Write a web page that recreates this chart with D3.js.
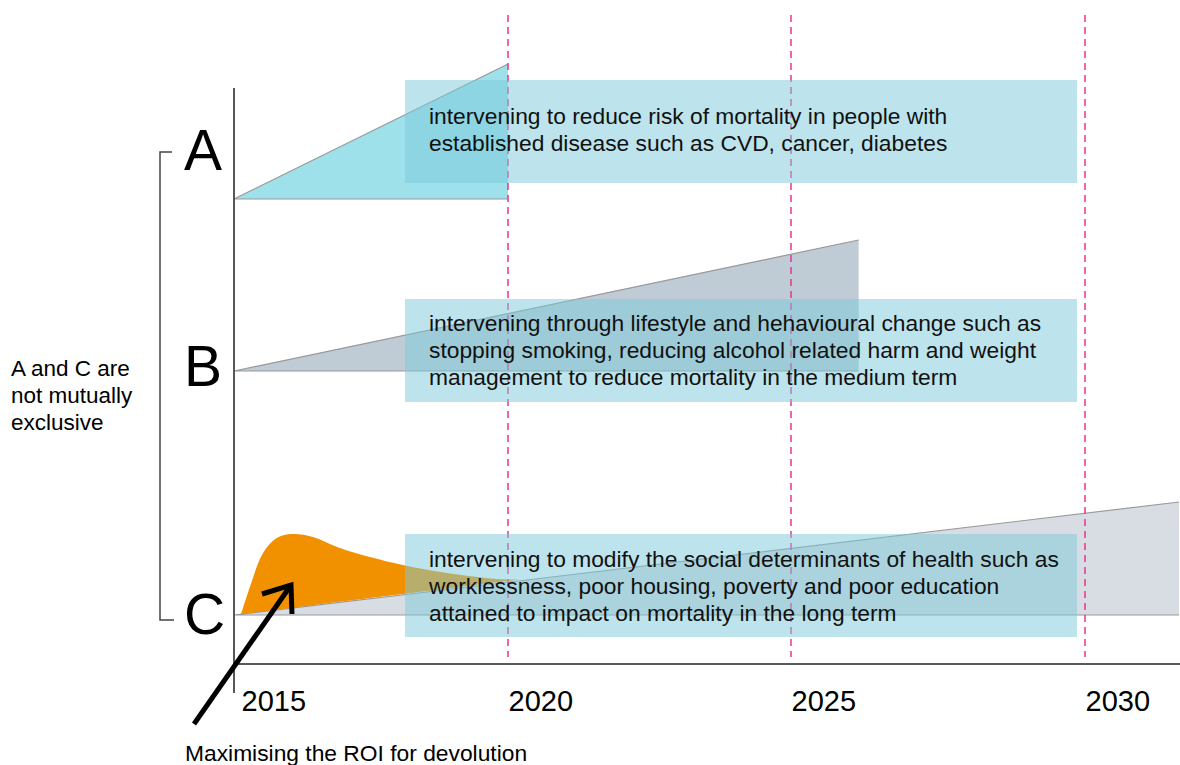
<!DOCTYPE html>
<html>
<head>
<meta charset="utf-8">
<script src="https://cdn.jsdelivr.net/npm/d3@7"></script>
<style>
  body { margin: 0; background: #fff; }
  svg { font-family: "Liberation Sans", Arial, sans-serif; }
</style>
</head>
<body>
<script>
// years marked on the time axis
const years = [2015, 2020, 2025, 2030];
const bands = ['A', 'B', 'C'];
const descriptions = [
  ['intervening to reduce risk of mortality in people with',
   'established disease such as CVD, cancer, diabetes'],
  ['intervening through lifestyle and hehavioural change such as',
   'stopping smoking, reducing alcohol related harm and weight',
   'management to reduce mortality in the medium term'],
  ['intervening to modify the social determinants of health such as',
   'worklessness, poor housing, poverty and poor education',
   'attained to impact on mortality in the long term']
];
// impact wedges, one per band
const wedgeStart = [2015, 2015, 2015];
const wedgeEnd = [2020, 2026.15, 2031.6];
const wedgeImpact = [13.5, 13.1, 11.3];
// early return on top of C
const roiYears = [2015.13, 2015.29, 2015.53, 2015.78, 2016.06, 2016.44, 2016.93, 2017.48, 2018.08, 2018.89, 2019.8, 2020.21];
const roiImpact = [0.1, 2.8, 6.2, 7.7, 8.1, 7.8, 6.7, 5.8, 5.0, 4.2, 3.6, 3.55];
const sideNote = ['A and C are', 'not mutually', 'exclusive'];
const arrowNote = 'Maximising the ROI for devolution';

const width = 1180, height = 765;

const svg = d3.select('body')
  .append('svg')
  .attr('width', width)
  .attr('height', height);

const x = d3.scaleLinear().domain(years).range([234, 508, 791, 1085]);
const impact = d3.scaleLinear().domain([0, 1]).range([0, 10]);
const base = d3.scaleOrdinal().domain(bands).range([199, 371, 615]);
const boxTop = d3.scaleOrdinal().domain(bands).range([80, 299, 534]);
const letterY = d3.scaleOrdinal().domain(bands).range([170, 386, 634]);
const textFirst = d3.scaleOrdinal().domain(bands).range([124, 331, 567]);
const fills = d3.scaleOrdinal().domain(bands).range(['#9fe1ea', '#bfccd5', '#d8dde3']);

const wedges = bands.map((b, i) => ({
  band: b,
  pts: [[wedgeStart[i], 0], [wedgeEnd[i], wedgeImpact[i]]]
}));

// wedges
const gW = svg.append('g');
wedges.forEach(w => {
  const [p0, p1] = w.pts;
  const b0 = base(w.band);
  gW.append('path')
    .attr('d', `M${x(p0[0])},${b0}L${x(p1[0])},${b0 - impact(p1[1])}L${x(p1[0])},${b0}Z`)
    .attr('fill', fills(w.band));
  gW.append('path')
    .attr('d', `M${x(p1[0])},${b0}L${x(p0[0])},${b0}L${x(p1[0])},${b0 - impact(p1[1])}`)
    .attr('fill', 'none')
    .attr('stroke', '#999')
    .attr('stroke-width', 1.2);
});

// orange return curve sitting on the C wedge
const cw = wedges[2].pts;
const cLine = d3.scaleLinear().domain([cw[0][0], cw[1][0]]).range([cw[0][1], cw[1][1]]);
const roi = roiYears.map((yr, i) => ({ yr, v: roiImpact[i] }));
svg.append('path')
  .datum(roi)
  .attr('fill', '#f29100')
  .attr('d', d3.area()
    .curve(d3.curveCatmullRom.alpha(0.5))
    .x(d => x(d.yr))
    .y0(d => base('C') - impact(cLine(d.yr)))
    .y1(d => base('C') - impact(d.v)));

// dashed year markers
svg.append('g')
  .selectAll('line')
  .data(years.slice(1))
  .join('line')
  .attr('x1', d => x(d)).attr('x2', d => x(d))
  .attr('y1', 15).attr('y2', 657)
  .attr('stroke', '#ee3190')
  .attr('stroke-width', 1.5)
  .attr('stroke-dasharray', '7,5');

// text boxes
const gB = svg.append('g');
bands.forEach((b, i) => {
  gB.append('rect')
    .attr('x', 405).attr('y', boxTop(b))
    .attr('width', 672).attr('height', 103)
    .attr('fill', 'rgb(123,201,217)')
    .attr('fill-opacity', 0.5);
  gB.append('text')
    .attr('x', 429).attr('y', textFirst(b))
    .attr('font-size', 22.8)
    .attr('fill', '#111')
    .selectAll('tspan')
    .data(descriptions[i])
    .join('tspan')
    .attr('x', 429)
    .attr('dy', (d, j) => j ? 26.8 : 0)
    .text(d => d);
  svg.append('text')
    .attr('x', 184).attr('y', letterY(b))
    .attr('font-size', 57)
    .text(b);
});

// axes
svg.append('line')
  .attr('x1', x(2015)).attr('x2', x(2015))
  .attr('y1', 88).attr('y2', 693)
  .attr('stroke', '#444').attr('stroke-width', 1.8);

const xAxis = svg.append('g')
  .attr('transform', 'translate(0,664)')
  .call(d3.axisBottom(x).tickValues(years).tickSize(0).tickFormat(d3.format('d')));
xAxis.select('.domain').remove();
xAxis.append('line')
  .attr('x1', x(2015)).attr('x2', width)
  .attr('stroke', '#222').attr('stroke-width', 1.5);
xAxis.selectAll('.tick text')
  .attr('text-anchor', 'start')
  .attr('font-family', '"Liberation Sans", Arial, sans-serif')
  .attr('font-size', 29)
  .attr('fill', '#000')
  .attr('dx', d => d === 2015 ? 7 : 0)
  .attr('y', 47)
  .attr('dy', 0);

// bracket A..C
svg.append('path')
  .attr('d', 'M172,152H160V620H174')
  .attr('fill', 'none')
  .attr('stroke', '#444')
  .attr('stroke-width', 1.5);

svg.append('text')
  .attr('x', 11).attr('y', 376)
  .attr('font-size', 22.5)
  .selectAll('tspan')
  .data(sideNote)
  .join('tspan')
  .attr('x', 11)
  .attr('dy', (d, j) => j ? 27 : 0)
  .text(d => d);

// arrow to the early return
const tip = [x(2016.04), base('C') - impact(3)];
const arrow = svg.append('g')
  .attr('fill', 'none')
  .attr('stroke', '#000')
  .attr('stroke-width', 5);
arrow.append('line')
  .attr('x1', tip[0] - 97).attr('y1', tip[1] + 139)
  .attr('x2', tip[0]).attr('y2', tip[1]);
arrow.append('path')
  .attr('d', `M${tip[0] - 29},${tip[1] + 9}L${tip[0]},${tip[1]}L${tip[0] + 1},${tip[1] + 29}`);

svg.append('text')
  .attr('x', 185).attr('y', 761)
  .attr('font-size', 22.8)
  .text(arrowNote);
</script>
</body>
</html>
